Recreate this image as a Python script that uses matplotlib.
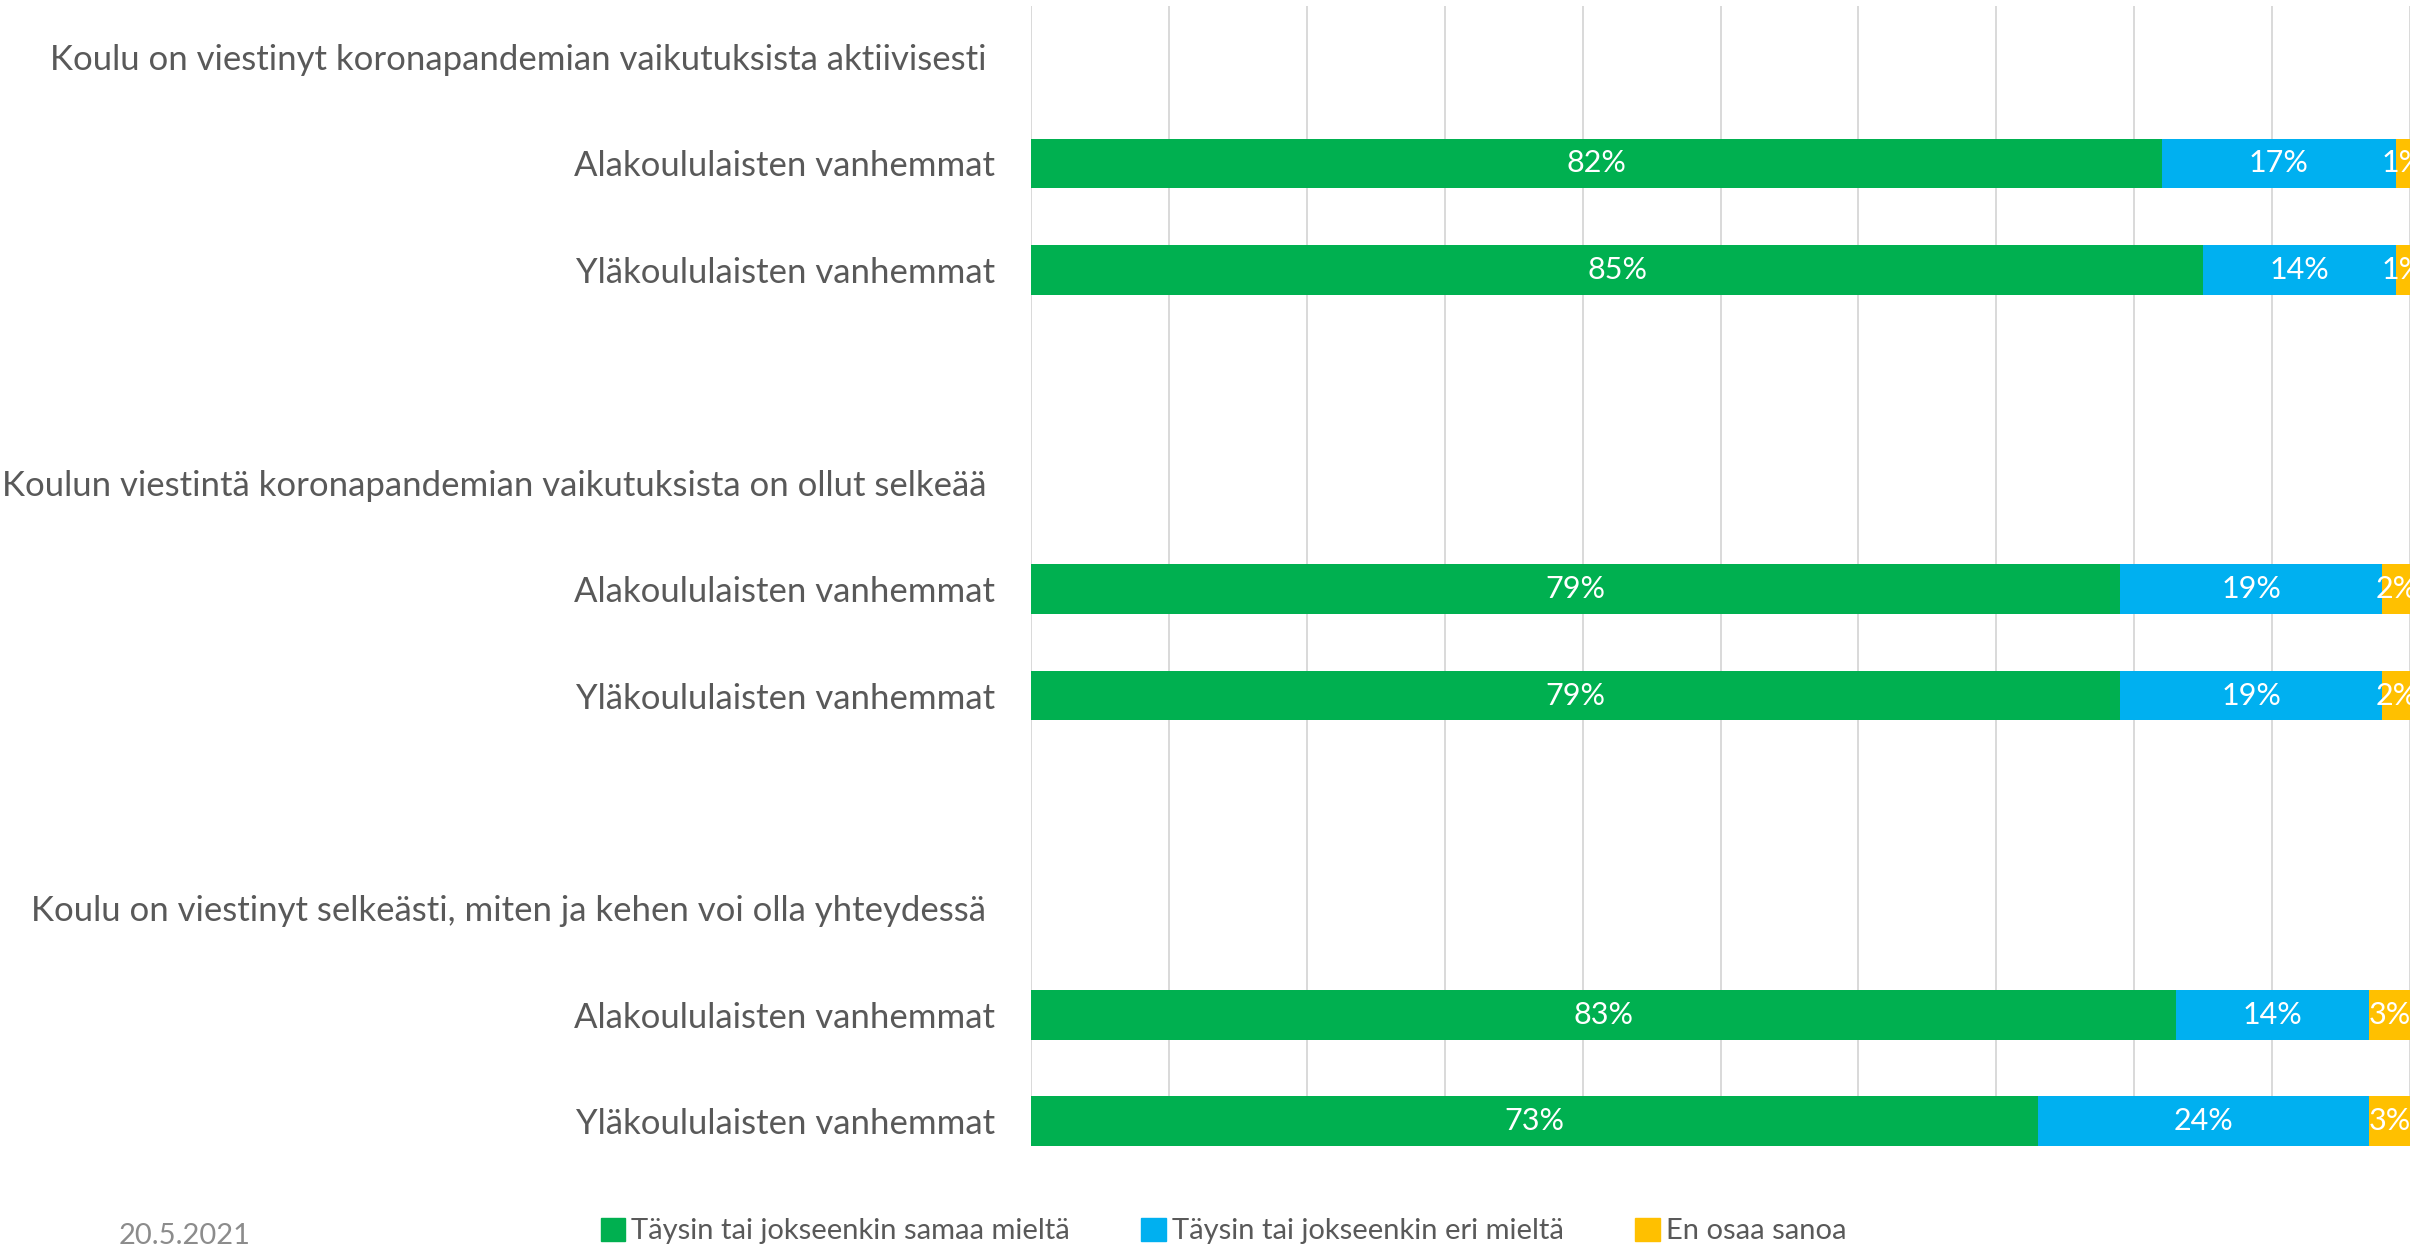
import matplotlib
matplotlib.use("Agg")
import matplotlib.pyplot as plt
from matplotlib.patches import Patch
import numpy as np

plt.rcParams['font.family'] = ['Lato', 'DejaVu Sans']

# kysymykset ja vastaajaryhmät
questions = ["Koulu on viestinyt koronapandemian vaikutuksista aktiivisesti ",
             "Koulun viestintä koronapandemian vaikutuksista on ollut selkeää ",
             "Koulu on viestinyt selkeästi, miten ja kehen voi olla yhteydessä "]
groups = ["Alakoululaisten vanhemmat", "Yläkoululaisten vanhemmat"]

# osuudet (%), järjestys: kysymys 1 ala/ylä, kysymys 2 ala/ylä, kysymys 3 ala/ylä
agree = [82, 85, 79, 79, 83, 73]
disagree = [17, 14, 19, 19, 14, 24]
dont_know = [1, 1, 2, 2, 3, 3]

series_names = ["Täysin tai jokseenkin samaa mieltä",
                "Täysin tai jokseenkin eri mieltä",
                "En osaa sanoa"]
colors = ['#00B050', '#00B0F0', '#FFC000']
date_text = "20.5.2021"

text_grey = '#595959'

fig = plt.figure(figsize=(24.28, 12.46), dpi=100)
ax = fig.add_axes([1031/2428, 1 - 1146/1246, (2410-1031)/2428, (1146-6)/1246])

# rivit: otsikko, ala, ylä, tyhjä ...
ylabels = []
bar_rows = []
for i, q in enumerate(questions):
    ylabels.append(q)
    for j, g in enumerate(groups):
        ylabels.append(g)
        bar_rows.append(len(ylabels) - 1)
    if i < len(questions) - 1:
        ylabels.append("")
ypos = np.arange(len(ylabels))

data = [np.array(agree), np.array(disagree), np.array(dont_know)]
totals = data[0] + data[1] + data[2]
left = np.zeros(len(bar_rows))
for vals, col, name in zip(data, colors, series_names):
    frac = vals / totals
    ax.barh(bar_rows, frac, left=left, height=0.465, color=col, label=name, zorder=3)
    for y, l, w, v in zip(bar_rows, left, frac, vals):
        ax.text(l + w / 2, y, f"{v}%", ha='center', va='center', color='white',
                fontsize=22, zorder=4, clip_on=True)
    left = left + frac

ax.set_xlim(0, 1)
ax.set_ylim(10 + 16/68.75, -33/68.75)
ax.set_yticks(ypos)
ax.set_yticklabels(ylabels, fontsize=25, color=text_grey)
ax.tick_params(axis='y', length=0, pad=26)
ax.set_xticks(np.arange(0, 1.01, 0.1))
ax.tick_params(axis='x', length=0, labelbottom=False)
ax.grid(axis='x', color='#D9D9D9', linewidth=1.4, zorder=0)
for s in ax.spines.values():
    s.set_visible(False)

handles = [Patch(color=c, label=n) for c, n in zip(colors, series_names)]
fig.legend(handles=handles, loc='center left', ncol=3, frameon=False,
           bbox_to_anchor=(586/2428, 1 - 1231/1246), fontsize=21,
           handlelength=0.85, handleheight=0.85, handletextpad=0.2,
           columnspacing=2.45, borderpad=0, labelcolor=text_grey)

fig.text(119/2428, 1 - 1236/1246, date_text, fontsize=21, color='#8C8C8C',
         ha='left', va='center')

fig.savefig("out.png", dpi=100)
